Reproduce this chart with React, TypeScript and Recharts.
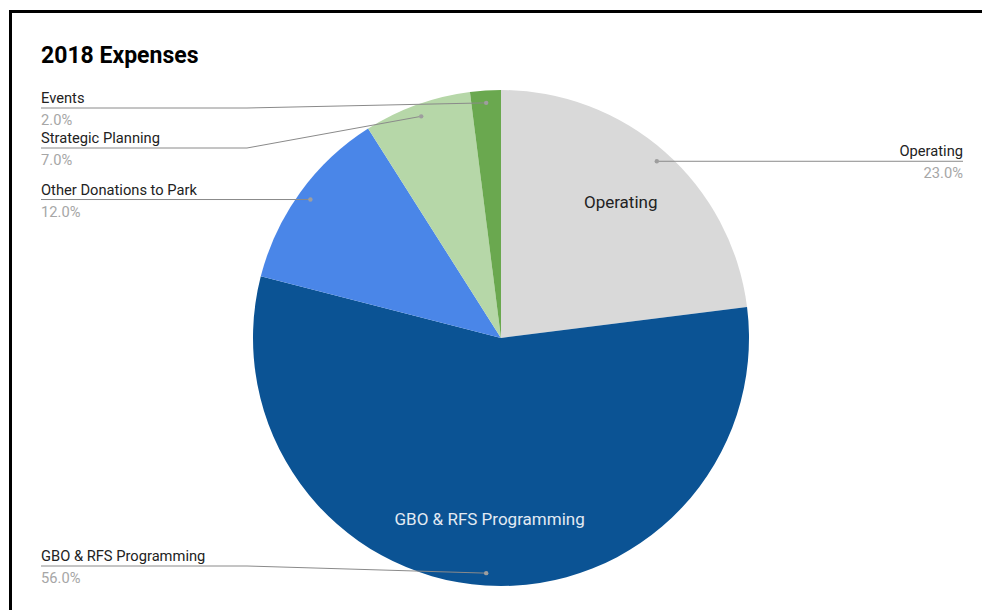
import React from 'react';
import { PieChart, Pie, Cell } from 'recharts';

const categories = ['Operating', 'GBO & RFS Programming', 'Other Donations to Park', 'Strategic Planning', 'Events'];
const shares = [23, 56, 12, 7, 2];
const colors = ['#d9d9d9', '#0b5394', '#4a86e8', '#b6d7a8', '#6aa84f'];
const innerTextColors = ['#222222', '#e3eaf3', '#ffffff', '#222222', '#ffffff'];

const data = categories.map((name, i) => ({ name, value: shares[i] }));

const W = 982;
const H = 610;
const CX = 501;
const CY = 338;
const R = 248;
const RADIAN = Math.PI / 180;
const FONT = 'Roboto, "Noto Sans", sans-serif';

// side-label layout: start from the dot's y and push apart so labels don't collide
const LABEL_TOP = 108;
const LABEL_BOTTOM = 566;
const LABEL_GAP = 40;
const DOT_R = 0.95;

const total = shares.reduce((a, b) => a + b, 0);
const labelY: number[] = (() => {
  let acc = 0;
  const items = shares.map((v, i) => {
    const mid = 90 - (acc + v / 2) / total * 360;
    acc += v;
    const x = Math.cos(mid * RADIAN);
    const y = CY - R * DOT_R * Math.sin(mid * RADIAN);
    return { i, left: x < 0, y };
  });
  const out: number[] = new Array(shares.length).fill(0);
  [true, false].forEach((side) => {
    const list = items.filter((d) => d.left === side).sort((a, b) => a.y - b.y);
    let prev = -Infinity;
    list.forEach((d) => {
      const y = Math.min(LABEL_BOTTOM, Math.max(d.y, LABEL_TOP, prev + LABEL_GAP));
      out[d.i] = y;
      prev = y;
    });
  });
  return out;
})();

const renderLabel = (props: any) => {
  const { cx, cy, midAngle, outerRadius, index, name, percent } = props;
  const cos = Math.cos(-midAngle * RADIAN);
  const sin = Math.sin(-midAngle * RADIAN);
  const dx = cx + outerRadius * DOT_R * cos;
  const dy = cy + outerRadius * DOT_R * sin;
  const left = cos < 0;
  const ly = labelY[index];
  const tx = left ? 41 : 963;
  const bendX = left ? cx - outerRadius - 6 : cx + outerRadius + 6;
  const showInner = percent >= 0.2;
  const ix = cx + outerRadius * 0.73 * cos;
  const iy = cy + outerRadius * 0.73 * sin;
  return (
    <g key={`lbl-${index}`}>
      <polyline
        points={`${tx},${ly} ${bendX},${ly} ${dx},${dy}`}
        fill="none"
        stroke="#8a8a8a"
        strokeWidth={1}
      />
      <circle cx={dx} cy={dy} r={2.2} fill="#9e9e9e" />
      <text x={tx} y={ly - 5} textAnchor={left ? 'start' : 'end'} fontSize={14.7} fill="#222222" fontFamily={FONT}>
        {name}
      </text>
      <text x={tx} y={ly + 17} textAnchor={left ? 'start' : 'end'} fontSize={14.7} fill="#a6a6a6" fontFamily={FONT}>
        {(percent * 100).toFixed(1)}%
      </text>
      {showInner && (
        <text
          x={ix}
          y={iy}
          textAnchor="middle"
          dominantBaseline="central"
          fontSize={17}
          fill={innerTextColors[index]}
          fontFamily={FONT}
        >
          {name}
        </text>
      )}
    </g>
  );
};

export default function App() {
  return (
    <div style={{ position: 'absolute', left: 0, top: 0, width: W, height: H, background: '#ffffff', overflow: 'hidden' }}>
      <div
        style={{
          position: 'absolute',
          left: 9,
          top: 10,
          width: 1100,
          height: 800,
          border: '3px solid #000000',
          boxSizing: 'border-box',
        }}
      />
      <div
        style={{
          position: 'absolute',
          left: 41,
          top: 42,
          fontFamily: FONT,
          fontWeight: 700,
          fontSize: 23,
          lineHeight: 'normal',
          color: '#000000',
        }}
      >
        2018 Expenses
      </div>
      <div style={{ position: 'absolute', left: 0, top: 0 }}>
        <PieChart width={W} height={H} margin={{ top: 0, right: 0, bottom: 0, left: 0 }}>
          <Pie
            data={data}
            dataKey="value"
            nameKey="name"
            cx={CX}
            cy={CY}
            innerRadius={0}
            outerRadius={R}
            startAngle={90}
            endAngle={-270}
            stroke="none"
            label={renderLabel}
            labelLine={false}
            isAnimationActive={false}
          >
            {data.map((d, i) => (
              <Cell key={d.name} fill={colors[i]} />
            ))}
          </Pie>
        </PieChart>
      </div>
    </div>
  );
}
